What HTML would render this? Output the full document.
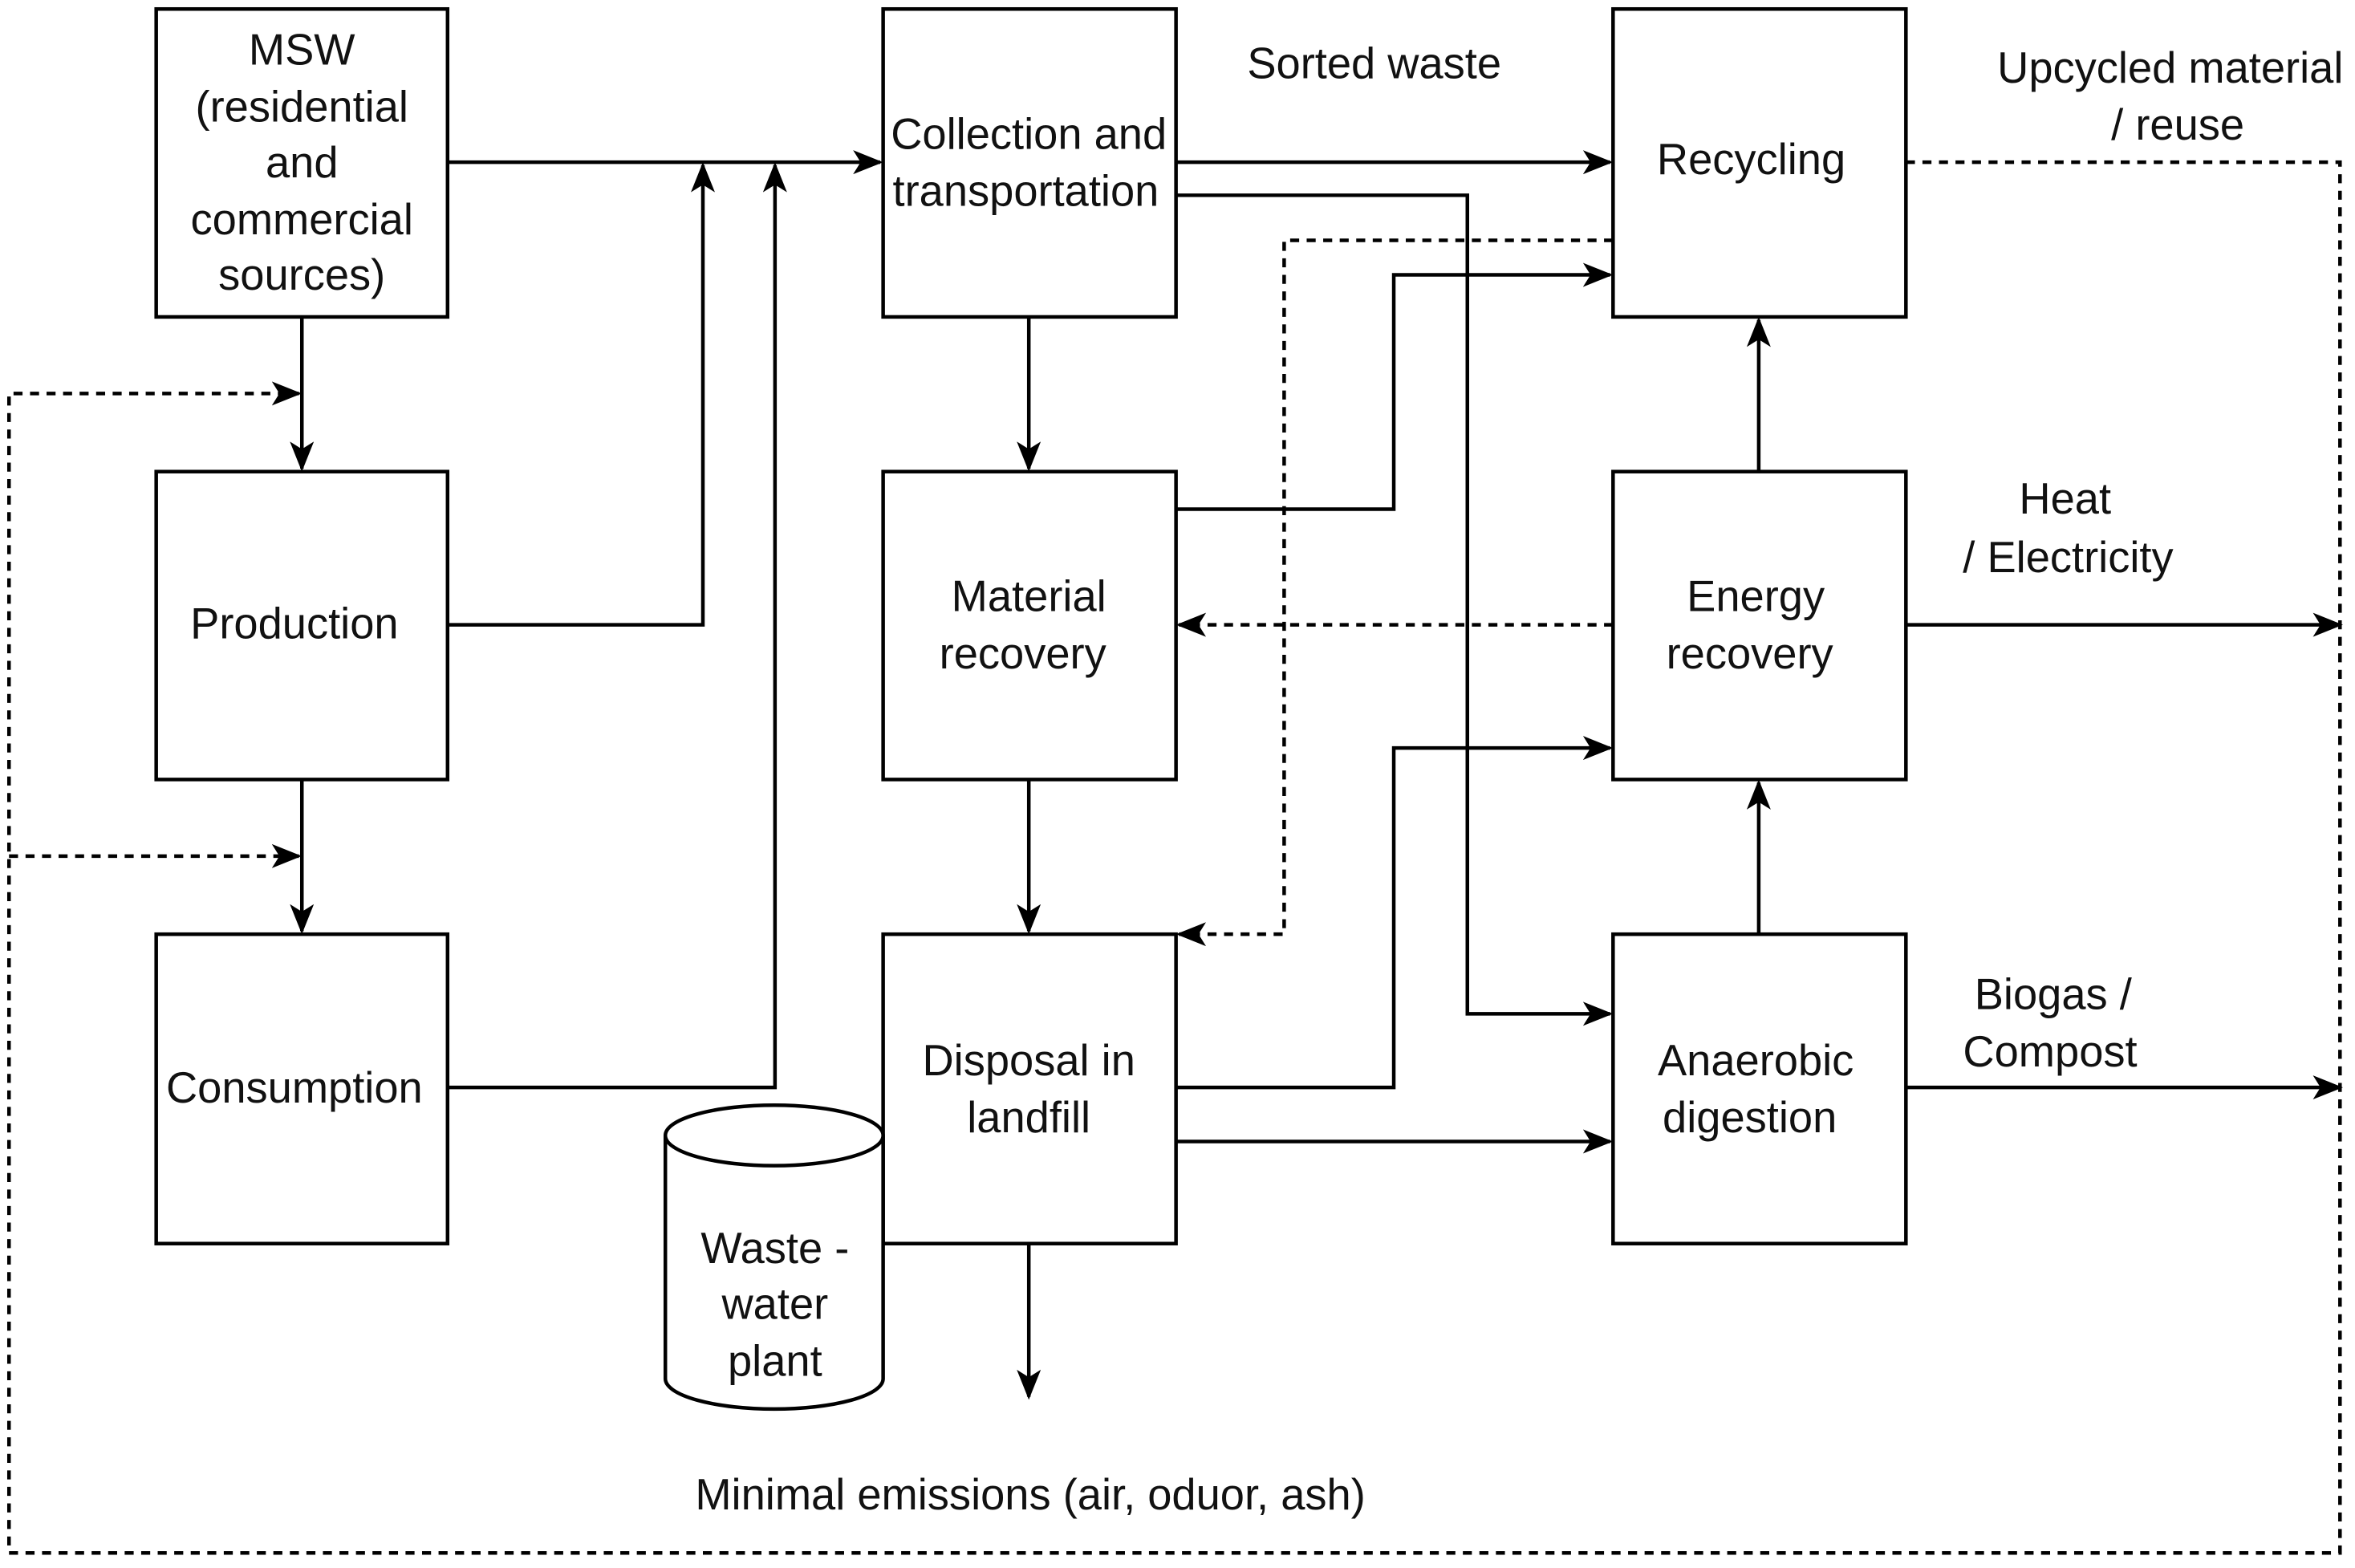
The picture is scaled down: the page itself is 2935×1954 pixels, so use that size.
<!DOCTYPE html>
<html><head><meta charset="utf-8"><style>
html,body{margin:0;padding:0;background:#fff;}
svg{display:block;}
text{font-family:"Liberation Sans",sans-serif;font-size:29px;fill:#111;text-anchor:middle;}
</style></head><body>
<svg width="2935" height="1954" viewBox="0 0 1568 1044" preserveAspectRatio="none" xmlns="http://www.w3.org/2000/svg">
<defs>
<marker id="b" markerWidth="20" markerHeight="16" refX="18" refY="8" orient="auto" markerUnits="userSpaceOnUse" viewBox="0 0 20 16">
<path d="M0,0 L20,8 L0,16 L5,8 z" fill="#000"/></marker>
</defs>
<g fill="#fff" stroke="#000" stroke-width="2.4">
<rect x="104" y="6" width="194" height="205"/>
<rect x="104" y="314" width="194" height="205"/>
<rect x="104" y="622" width="194" height="206"/>
<rect x="588" y="6" width="195" height="205"/>
<rect x="588" y="314" width="195" height="205"/>
<rect x="588" y="622" width="195" height="206"/>
<rect x="1074" y="6" width="195" height="205"/>
<rect x="1074" y="314" width="195" height="205"/>
<rect x="1074" y="622" width="195" height="206"/>
<path d="M443,756 L443,918 A72,20 0 0 0 588,918 L588,756 A72,20 0 0 0 443,756 A72,20 0 0 0 588,756"/>
</g>
<g fill="none" stroke="#000" stroke-width="2.4" marker-end="url(#b)">
<path d="M298,108 H586"/>
<path d="M298,416 H468 V110"/>
<path d="M298,724 H516 V110"/>
<path d="M783,108 H1072"/>
<path d="M783,130 H977 V675 H1072"/>
<path d="M685,211 V312"/>
<path d="M685,519 V620"/>
<path d="M783,339 H928 V183 H1072"/>
<path d="M783,724 H928 V498 H1072"/>
<path d="M783,760 H1072"/>
<path d="M685,828 V930"/>
<path d="M1171,314 V213"/>
<path d="M1171,622 V521"/>
<path d="M1269,416 H1558"/>
<path d="M1269,724 H1558"/>
<path d="M201,211 V312"/>
<path d="M201,519 V620"/>
</g>
<g fill="none" stroke="#000" stroke-width="2.4" stroke-dasharray="6,5">
<path d="M1074,416 H785" marker-end="url(#b)"/>
<path d="M1074,160 H855 V622 H785" marker-end="url(#b)"/>
<path d="M1269,108 H1558 V1034 H6 V262 H199" marker-end="url(#b)"/>
<path d="M6,570 H199" marker-end="url(#b)"/>
</g>
<text x="201" y="43">MSW</text>
<text x="201" y="81">(residential</text>
<text x="201" y="118">and</text>
<text x="201" y="156">commercial</text>
<text x="201" y="193">sources)</text>
<text x="196" y="425">Production</text>
<text x="196" y="734">Consumption</text>
<text x="685" y="99">Collection and</text>
<text x="683" y="137">transportation</text>
<text x="685" y="407">Material</text>
<text x="681" y="445">recovery</text>
<text x="685" y="716">Disposal in</text>
<text x="685" y="754">landfill</text>
<text x="516" y="841">Waste -</text>
<text x="516" y="878">water</text>
<text x="516" y="916">plant</text>
<text x="1166" y="116">Recycling</text>
<text x="1169" y="407">Energy</text>
<text x="1165" y="445">recovery</text>
<text x="1169" y="716">Anaerobic</text>
<text x="1165" y="754">digestion</text>
<text x="915" y="52">Sorted waste</text>
<text x="1445" y="55">Upcycled material</text>
<text x="1450" y="93">/ reuse</text>
<text x="1375" y="342">Heat</text>
<text x="1377" y="381">/ Electricity</text>
<text x="1367" y="672">Biogas /</text>
<text x="1365" y="710">Compost</text>
<text x="686" y="1005">Minimal emissions (air, oduor, ash)</text>
</svg>
</body></html>
